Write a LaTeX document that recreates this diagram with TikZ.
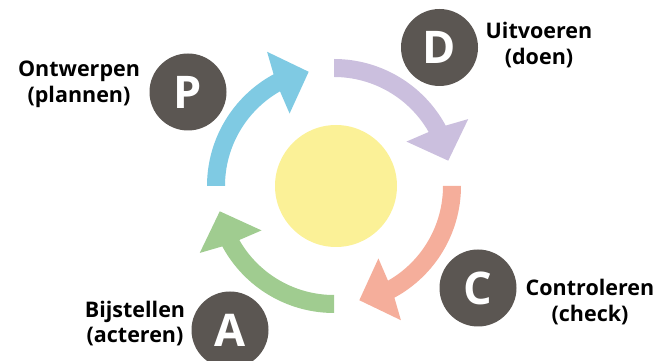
\documentclass[tikz,border=0pt]{standalone}
\usepackage{fontspec}
\setmainfont{Open Sans}
\definecolor{pblue}{HTML}{7FCAE3}
\definecolor{dpurple}{HTML}{CBBFDE}
\definecolor{corange}{HTML}{F5AE9B}
\definecolor{agreen}{HTML}{A0CC90}
\definecolor{sunyellow}{HTML}{FBF197}
\definecolor{discgray}{HTML}{5B5652}
\tikzset{
  disc/.style={circle, fill=discgray, minimum size=77pt, inner sep=0pt,
    text=white, font=\fontsize{45}{45}\selectfont\bfseries},
  lbl/.style={align=center, inner sep=0pt, font=\fontsize{21.5}{25.5}\selectfont\bfseries},
}
\newcommand{\pdcaarrow}[2]{%
  \fill[#2] (#1:127) arc[start angle=#1, end angle=#1-61.6, radius=127]
    -- (#1-63.5:150) -- (#1-77.5:117) -- (#1-58.5:85) -- (#1-60.3:109)
    arc[start angle=#1-60.3, end angle=#1, radius=109] -- cycle;}
\begin{document}
\begin{tikzpicture}[x=1pt,y=1pt]
\useasboundingbox (0,0) rectangle (662,361);
\node[circle, fill=sunyellow, minimum size=122pt, inner sep=0pt] (sun) at (336,175) {};
\begin{scope}[shift={(334,175)}]
  \pdcaarrow{180}{pblue}
  \pdcaarrow{90}{dpurple}
  \pdcaarrow{0}{corange}
  \pdcaarrow{270}{agreen}
\end{scope}
\node[disc] (P) at (188,269) {P};
\node[disc] (D) at (439.5,313.5) {D};
\node[disc] (C) at (478,73) {C};
\node[disc] (A) at (230,31) {A};
\node[lbl] (lp) at (79,276.5) {Ontwerpen\\(plannen)};
\node[lbl] (ld) at (539,316) {Uitvoeren\\(doen)};
\node[lbl] (lc) at (590,59) {Controleren\\(check)};
\node[lbl] (la) at (135,37.5) {Bijstellen\\(acteren)};
\end{tikzpicture}
\end{document}
